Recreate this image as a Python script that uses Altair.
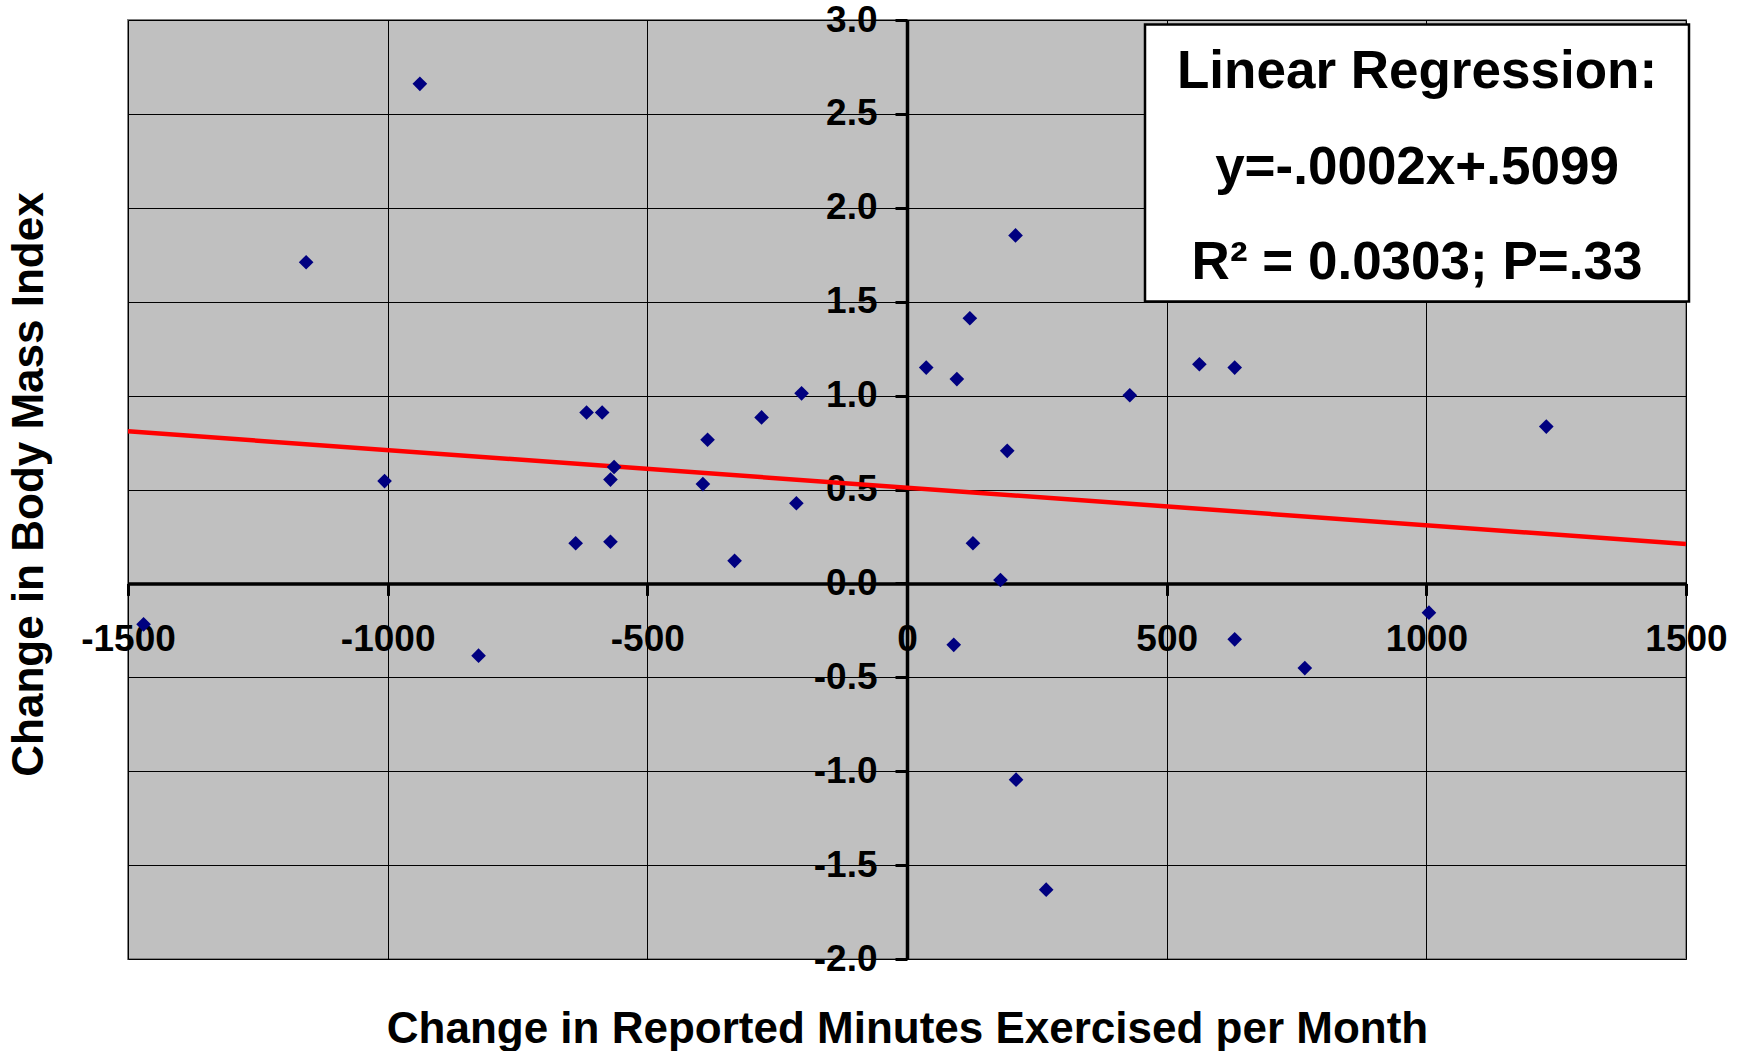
import altair as alt
import pandas as pd

# ---- data ----
X_VALUES = [-938, -1157, -1006, -617, -587, -564, -571, -393, -384, -280, -203, -213,
            -638, -571, -332, -1470, -825, 37, 96, 121, 209, 193, 127, 180, 429, 563,
            631, 1231, 90, 210, 268, 631, 766, 1005]
Y_VALUES = [2.66, 1.71, 0.545, 0.91, 0.91, 0.62, 0.553, 0.529, 0.765, 0.884, 1.012, 0.427,
            0.214, 0.222, 0.12, -0.218, -0.385, 1.149, 1.088, 1.412, 1.853, 0.706, 0.214,
            0.018, 1.002, 1.167, 1.149, 0.835, -0.327, -1.045, -1.631, -0.298, -0.451, -0.156]
SLOPE = -0.0002
INTERCEPT = 0.5099
LINE_X = [-1500, 1500]
X_TICKS = [-1500, -1000, -500, 0, 500, 1000, 1500]
Y_TICKS = [-2.0, -1.5, -1.0, -0.5, 0.0, 0.5, 1.0, 1.5, 2.0, 2.5, 3.0]
X_TITLE = "Change in Reported Minutes Exercised per Month"
Y_TITLE = "Change in Body Mass Index"
BOX_LINES = ["Linear Regression:", "y=-.0002x+.5099", "R² = 0.0303; P=.33"]

# ---- layout ----
W, H = 1558, 939
FONT = "Liberation Sans"
X_ZERO = W / 2            # pixel position of x = 0
Y_ZERO = H * 3 / 5        # pixel position of y = 0

pts = pd.DataFrame({"x": X_VALUES, "y": Y_VALUES})
line_df = pd.DataFrame({"x": LINE_X})
one = pd.DataFrame({"k": [0]})

x_scale = alt.Scale(domain=[-1500, 1500], nice=False, zero=False)
y_scale = alt.Scale(domain=[-2, 3], nice=False, zero=False)

x_axis = alt.Axis(
    values=X_TICKS, format="d", labelExpr="replace(datum.label, '−', '-')",
    offset=Y_ZERO - H, grid=True, gridColor="black", gridWidth=1, gridOpacity=1,
    domainColor="black", domainWidth=3.5, tickColor="black", tickWidth=3, tickSize=12,
    labelFont=FONT, labelFontSize=37, labelFontWeight="bold", labelColor="black",
    labelPadding=26, labelFlush=False, labelOverlap=False,
    title=X_TITLE, titleFont=FONT, titleFontSize=44, titleFontWeight="bold",
    titleColor="black", titleBaseline="alphabetic", titleY=1042 - 20 - Y_ZERO,
    titleX=X_ZERO, titleAlign="center",
)
y_axis = alt.Axis(
    values=Y_TICKS, format=".1f", labelExpr="replace(datum.label, '−', '-')",
    offset=-X_ZERO, grid=True, gridColor="black", gridWidth=1, gridOpacity=1,
    domainColor="black", domainWidth=3.5, tickColor="black", tickWidth=3, tickSize=12,
    labelFont=FONT, labelFontSize=37, labelFontWeight="bold", labelColor="black",
    labelPadding=18, labelFlush=False, labelOverlap=False,
    title=Y_TITLE, titleFont=FONT, titleFontSize=44, titleFontWeight="bold",
    titleColor="black", titleAngle=270, titleAlign="center", titleBaseline="alphabetic",
    titleX=42 - 128 - X_ZERO, titleY=464,
)

line = alt.Chart(line_df).transform_calculate(
    y=f"datum.x * ({SLOPE}) + {INTERCEPT}"
).mark_line(color="#FF0000", strokeWidth=4.5).encode(
    x=alt.X("x:Q", scale=x_scale, axis=x_axis),
    y=alt.Y("y:Q", scale=y_scale, axis=y_axis),
)

points = alt.Chart(pts).mark_point(
    shape="diamond", filled=True, size=215, color="#000080", opacity=1
).encode(
    x=alt.X("x:Q", scale=x_scale, axis=x_axis),
    y=alt.Y("y:Q", scale=y_scale, axis=y_axis),
)

box = alt.Chart(one).mark_rect(
    fill="white", stroke="black", strokeWidth=2.5
).encode(
    x=alt.value(1017), x2=alt.value(1561), y=alt.value(4.5), y2=alt.value(281.5)
)

box_text = alt.Chart(one).mark_text(
    font=FONT, fontSize=53, fontWeight="bold", color="black",
    align="center", baseline="alphabetic", lineHeight=95.5,
).encode(
    x=alt.value(1289), y=alt.value(68), text=alt.value(BOX_LINES)
)

chart = alt.layer(line, points, box, box_text).properties(
    width=W, height=H,
    autosize=alt.AutoSizeParams(type="none"),
    padding={"left": 128, "top": 20, "right": 1740 - 128 - W, "bottom": 1051 - 20 - H},
    background="white",
).configure_view(
    fill="#C0C0C0", stroke="#808080", strokeWidth=2
)

chart.save("out.html", embed_options={"renderer": "svg", "actions": False})
